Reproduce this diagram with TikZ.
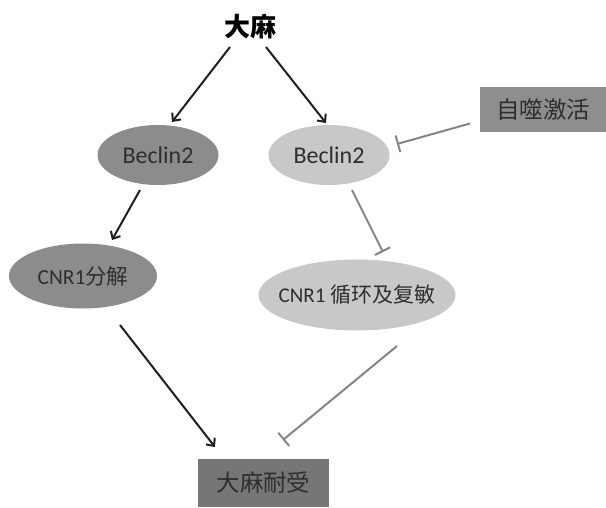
\documentclass[tikz,border=0pt]{standalone}
\usepackage{fontspec}
\setmainfont{Carlito}
\newfontfamily\cjk{Noto Sans CJK SC}
\usetikzlibrary{shapes.geometric,arrows.meta,calc}
\definecolor{darkfill}{HTML}{8C8C8C}
\definecolor{lightfill}{HTML}{C8C8C8}
\definecolor{boxfill}{HTML}{8E8E8E}
\definecolor{tolfill}{HTML}{767676}
\definecolor{txt}{HTML}{2E2E2E}
\definecolor{inhib}{HTML}{858585}
\tikzset{
  darkell/.style={ellipse, fill=darkfill, inner sep=0pt, text=txt},
  lightell/.style={ellipse, fill=lightfill, inner sep=0pt, text=txt},
  greybox/.style={rectangle, inner sep=0pt, text=txt},
  actarrow/.style={line width=2pt, draw=black!88, -{Straight Barb[length=6pt,width=11pt,line width=2pt]}},
  inharrow/.style={line width=2pt, draw=inhib, -{Bar[width=17pt,line width=2pt]}}
}
\begin{document}
\begin{tikzpicture}[x=1pt,y=-1pt]
\useasboundingbox (0,0) rectangle (606,507);
\fill[white] (0,0) rectangle (606,507);
\node (top) at (250,27) {\cjk\bfseries\fontsize{26}{30}\selectfont 大麻};
\node[darkell, minimum width=121pt, minimum height=60pt] (bl) at (158,155) {};
\node[text=txt, font=\fontsize{24}{28}\selectfont] (bltext) at (bl.center) {Beclin2};
\node[lightell, minimum width=121pt, minimum height=60pt] (br) at (329,155) {};
\node[text=txt, font=\fontsize{24}{28}\selectfont] (brtext) at (br.center) {Beclin2};
\node[greybox, fill=boxfill, minimum width=126pt, minimum height=45pt] (auto) at (543,109.5) {\cjk\fontsize{23.5}{26}\selectfont 自噬激活};
\node[darkell, minimum width=148pt, minimum height=65pt] (cl) at (83,276) {};
\node[text=txt, font=\fontsize{21.5}{24}\selectfont] (cltext) at (cl.center) {CNR1{\cjk 分解}};
\node[lightell, minimum width=197pt, minimum height=71pt] (cr) at (357,295) {};
\node[text=txt, font=\fontsize{21}{24}\selectfont] (crtext) at (cr.center) {CNR1 {\cjk 循环及复敏}};
\node[greybox, fill=tolfill, minimum width=131pt, minimum height=48pt] (tol) at (263.5,483) {\cjk\fontsize{23.4}{26}\selectfont 大麻耐受};

\draw[actarrow] ($(top)+(-20,20)$) -- ($(bl)+(14,-33)$);
\draw[actarrow] ($(top)+(16,20)$) -- ($(br)+(-3,-32)$);
\draw[actarrow] ($(bl)+(-18,35)$) -- ($(cl)+(29,-36)$);
\draw[inharrow] ($(br)+(23,35)$) -- ($(cr)+(26,-43)$);
\draw[inharrow] ($(auto)+(-73,14)$) -- ($(br)+(68,-11)$);
\draw[actarrow] ($(cl)+(37,49)$) -- ($(tol)+(-48.5,-36)$);
\draw[inharrow] ($(cr)+(40,51)$) -- ($(tol)+(19.5,-43)$);
\end{tikzpicture}
\end{document}
